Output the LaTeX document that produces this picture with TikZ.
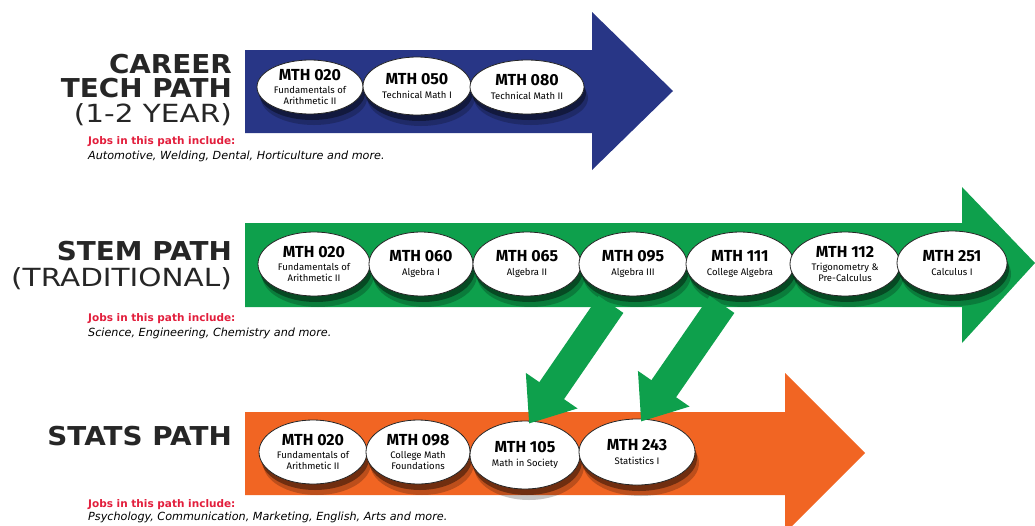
\documentclass[tikz,border=0pt]{standalone}
\usepackage{fontspec}
\setmainfont{Fira Sans}
\newfontfamily\titlefont{DejaVu Sans}
\newfontfamily\headfont{DejaVu Sans}[FakeStretch=1.07]
\newfontfamily\widefont{DejaVu Sans}[FakeStretch=1.18]
\usepackage{tikz}
\usetikzlibrary{shapes.geometric,shadows,arrows.meta}

\definecolor{careerblue}{RGB}{40,54,134}
\definecolor{stemgreen}{RGB}{14,160,76}
\definecolor{statsorange}{RGB}{241,101,35}
\definecolor{jobsred}{RGB}{226,30,60}
\definecolor{titlegray}{RGB}{38,38,38}

\newcommand{\mth}[2]{{\fontsize{16}{16}\selectfont\bfseries MTH #1}\\[3pt]#2}

\begin{document}
\begin{tikzpicture}
    [x=1pt, y=-1pt,
     course/.style = {ellipse, draw=black!85, line width=.8pt, fill=white, inner sep=0pt,
                      align=center, minimum width=108pt, minimum height=64pt,
                      font=\fontsize{9.5}{10.5}\selectfont,
                      drop shadow={shadow xshift=4pt, shadow yshift=-11pt, opacity=.22, fill=black},
                      drop shadow={shadow xshift=2pt, shadow yshift=-6pt, opacity=.4, fill=black}},
     pathtitle/.style = {anchor=base east, inner sep=0pt, text=titlegray,
                         font=\headfont\bfseries\fontsize{26}{26}\selectfont},
     pathsub/.style = {anchor=base east, inner sep=0pt, text=titlegray,
                       font=\widefont\fontsize{25}{25}\selectfont},
     jobshead/.style = {anchor=base west, inner sep=0pt, text=jobsred,
                        font=\titlefont\bfseries\fontsize{10.5}{10.5}\selectfont},
     jobslist/.style = {anchor=base west, inner sep=0pt, text=black,
                        font=\titlefont\itshape\fontsize{11.2}{11.2}\selectfont}]
    \useasboundingbox (0,0) rectangle (1035,525);

    % career tech path
    \fill[careerblue] (245,50) -- (592,50) -- (592,12) -- (673,91) -- (592,170) -- (592,133) -- (245,133) -- cycle;
    \node[pathtitle] (careerA) at (232,73) {CAREER};
    \node[pathtitle] (careerB) at (232,97) {TECH PATH};
    \node[pathsub] (careerC) at (232,122) {(1-2 YEAR)};
    \node[jobshead] (careerJobs) at (88,144) {Jobs in this path include:};
    \node[jobslist] (careerList) at (88,159) {Automotive, Welding, Dental, Horticulture and more.};
    \node[course, minimum width=106pt, minimum height=54pt] (c020) at (310,87) {\mth{020}{Fundamentals of\\Arithmetic II}};
    \node[course, minimum width=108pt, minimum height=58pt] (c050) at (417,86) {\mth{050}{Technical Math I}};
    \node[course, minimum width=114pt, minimum height=54pt] (c080) at (527,87) {\mth{080}{Technical Math II}};

    % stats path
    \fill[statsorange] (245,412) -- (785,412) -- (785,373) -- (865,453) -- (785,533) -- (785,495) -- (245,495) -- cycle;
    \node[pathtitle] (statsA) at (232,445) {STATS PATH};
    \node[jobshead] (statsJobs) at (88,507) {Jobs in this path include:};
    \node[jobslist] (statsList) at (88,520) {Psychology, Communication, Marketing, English, Arts and more.};
    \node[course] (t020) at (313,452) {\mth{020}{Fundamentals of\\Arithmetic II}};
    \node[course, minimum width=104pt] (t098) at (418,452) {\mth{098}{College Math\\Foundations}};
    \node[course, minimum width=110pt, minimum height=68pt] (t105) at (525,455) {\mth{105}{Math in Society}};
    \node[course, minimum width=116pt, minimum height=66pt] (t243) at (637,452) {\mth{243}{Statistics I}};

    % stem path
    \fill[stemgreen] (245,223) -- (962,223) -- (962,187) -- (1035,263) -- (962,343) -- (962,307) -- (245,307) -- cycle;
    \node[pathtitle] (stemA) at (232,260) {STEM PATH};
    \node[pathsub] (stemB) at (232,286) {(TRADITIONAL)};
    \node[jobshead] (stemJobs) at (88,321) {Jobs in this path include:};
    \node[jobslist] (stemList) at (88,336) {Science, Engineering, Chemistry and more.};
    \node[course, minimum width=112pt] (s020) at (314,264) {\mth{020}{Fundamentals of\\Arithmetic II}};
    \node[course, minimum width=104pt] (s060) at (421,264) {\mth{060}{Algebra I}};
    \node[course] (s065) at (527,264) {\mth{065}{Algebra II}};
    \node[course] (s095) at (633,264) {\mth{095}{Algebra III}};
    \node[course] (s111) at (740,264) {\mth{111}{College Algebra}};
    \node[course, minimum width=110pt] (s112) at (845,264) {\mth{112}{Trigonometry \&\\Pre-Calculus}};
    \node[course, minimum width=110pt] (s251) at (952,263) {\mth{251}{Calculus I}};

    % switching from stem to stats
    \foreach \from/\to/\dx in {s095/t105/-22, s111/t243/-18}
      \draw[stemgreen, line width=30pt, -{Triangle[width=60pt,length=40pt]}]
        ([xshift=\dx pt, yshift=-8pt]\from.south) -- ([xshift=4pt, yshift=-3pt]\to.north);
\end{tikzpicture}
\end{document}
